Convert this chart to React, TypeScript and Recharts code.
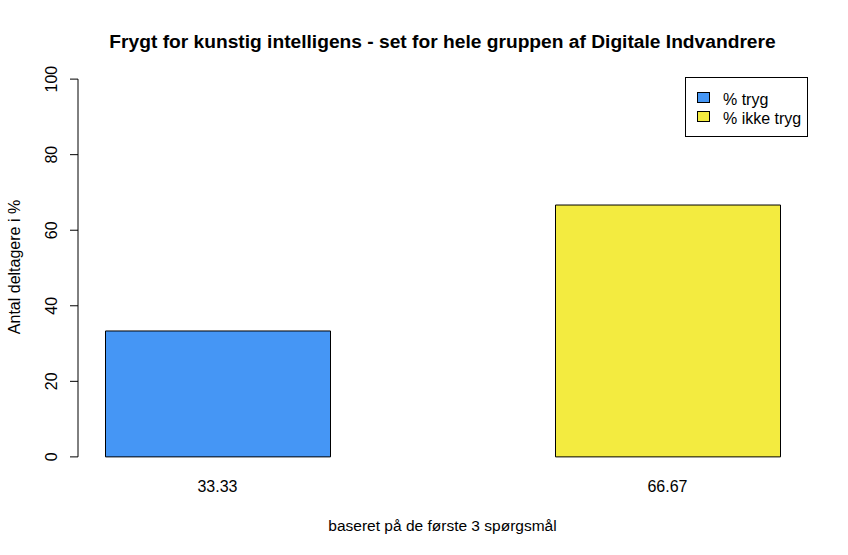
import React from "react";
import { BarChart, Bar, XAxis, YAxis, Cell, ReferenceLine, Legend } from "recharts";

const categories = ["% tryg", "% ikke tryg"];
const values = [33.33, 66.67];
const positions = [1.5, 3.5];
const barLabels = ["33.33", "66.67"];
const colors = ["#4596F5", "#F3EB40"];
const yTicks = [0, 20, 40, 60, 80, 100];

const data = categories.map((c, i) => ({ name: c, x: positions[i], value: values[i] }));

const FONT = "'Liberation Sans', Arial, sans-serif";

const YTick = (props: any) => {
  const { x, y, payload } = props;
  return (
    <text
      x={x - 13}
      y={y}
      transform={`rotate(-90, ${x - 13}, ${y})`}
      textAnchor="middle"
      fontSize={16}
      fontFamily={FONT}
      fill="#000"
    >
      {payload.value}
    </text>
  );
};

const XTick = (props: any) => {
  const { x, y, payload } = props;
  return (
    <text x={x} y={y + 20} textAnchor="middle" fontSize={16} fontFamily={FONT} fill="#000">
      {barLabels[positions.indexOf(payload.value)]}
    </text>
  );
};

const LegendBox = () => (
  <svg width={124} height={61} style={{ display: "block" }}>
    <rect x={0.5} y={0.5} width={122} height={59} fill="#fff" stroke="#000" strokeWidth={1} />
    {categories.map((c, i) => (
      <g key={c}>
        <rect x={12.5} y={15.5 + i * 19} width={12} height={10} fill={colors[i]} stroke="#000" />
        <text x={38} y={28 + i * 19} fontSize={16} fontFamily={FONT} fill="#000">
          {c}
        </text>
      </g>
    ))}
  </svg>
);

export default function App() {
  return (
    <div style={{ position: "absolute", left: 0, top: 0, width: 848, height: 555, background: "#fff" }}>
      <BarChart
        width={848}
        height={555}
        data={data}
        margin={{ top: 64, right: 41, bottom: 0, left: 0 }}
      >
        <text x={442.5} y={48} textAnchor="middle" fontSize={19.2} fontWeight="bold" fontFamily={FONT} fill="#000">
          Frygt for kunstig intelligens - set for hele gruppen af Digitale Indvandrere
        </text>
        <text x={442.5} y={531} textAnchor="middle" fontSize={15.5} fontFamily={FONT} fill="#000">
          baseret på de første 3 spørgsmål
        </text>
        <text
          x={20}
          y={267}
          transform="rotate(-90, 20, 267)"
          textAnchor="middle"
          fontSize={16}
          fontFamily={FONT}
          fill="#000"
        >
          Antal deltagere i %
        </text>
        <XAxis
          type="number"
          dataKey="x"
          domain={[0.88, 4.12]}
          ticks={positions}
          axisLine={false}
          tickLine={false}
          tickSize={0}
          tickMargin={0}
          height={83}
          tick={<XTick />}
          allowDataOverflow
        />
        <YAxis
          type="number"
          domain={[-4, 104]}
          ticks={yTicks}
          width={78}
          axisLine={false}
          tickLine={{ stroke: "#000" }}
          tickSize={8}
          tickMargin={0}
          tick={<YTick />}
          allowDataOverflow
        />
        <ReferenceLine
          segment={[{ x: 0.88, y: 0 }, { x: 0.88, y: 100 }]}
          stroke="#000"
          ifOverflow="visible"
        />
        <Legend
          layout="horizontal"
          verticalAlign="middle"
          align="center"
          content={() => <LegendBox />}
          wrapperStyle={{ position: "absolute", left: 685, top: 77, width: 124, height: 61 }}
        />
        <Bar dataKey="value" barSize={225} stroke="#000" strokeWidth={1} isAnimationActive={false}>
          {data.map((d, i) => (
            <Cell key={d.name} fill={colors[i]} />
          ))}
        </Bar>
      </BarChart>
    </div>
  );
}
